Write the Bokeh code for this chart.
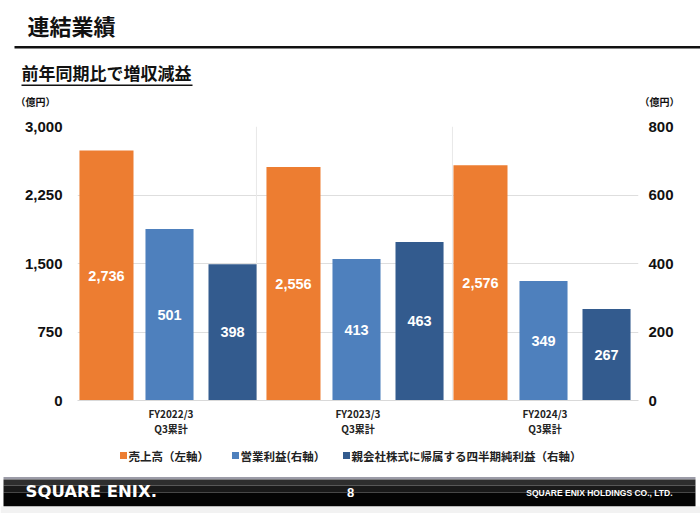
from bokeh.plotting import figure
from bokeh.layouts import column
from bokeh.models import (Range1d, LinearAxis, FixedTicker, NumeralTickFormatter,
                          ColumnDataSource, Span)
from bokeh.transform import dodge
from bokeh.core.properties import value
from bokeh.embed import file_html
from bokeh.resources import INLINE

# ---------------- data ----------------
categories = ["FY2022/3\nQ3累計", "FY2023/3\nQ3累計", "FY2024/3\nQ3累計"]
sales = [2736, 2556, 2576]            # 売上高 (left axis)
operating_income = [501, 413, 349]    # 営業利益 (right axis)
net_income = [398, 463, 267]          # 親会社株式に帰属する四半期純利益 (right axis)
left_ticks = [0, 750, 1500, 2250, 3000]
right_ticks = [0, 200, 400, 600, 800]
series_names = ["売上高（左軸）", "営業利益(右軸）", "親会社株式に帰属する四半期純利益（右軸）"]
title_text = "連結業績"
subtitle_text = "前年同期比で増収減益"
unit_text = "（億円）"
page_number = "8"
logo_text = "SQUARE ENIX."
company_text = "SQUARE ENIX HOLDINGS CO., LTD."

# ---------------- styles ----------------
C_ORANGE = "#ED7D31"
C_LIGHT = "#4E80BD"
C_DARK = "#335B8E"
series_colors = [C_ORANGE, C_LIGHT, C_DARK]
JP = "Noto Sans CJK JP"
LAT = "Liberation Sans"
W = 700
H_HEAD, H_CHART, H_FOOT = 110, 330, 73


def no_align(f):
    try:
        f.frame_align = False
    except Exception:
        pass


def blank(height, y0):
    """A figure whose data coordinates equal the page's pixel coordinates."""
    f = figure(width=W, height=height, x_range=Range1d(0, W), y_range=Range1d(y0 + height, y0),
               output_backend="svg", toolbar_location=None,
               x_axis_location=None, y_axis_location=None,
               min_border=0, min_border_left=0, min_border_right=0,
               min_border_top=0, min_border_bottom=0)
    f.grid.visible = False
    f.outline_line_color = None
    f.background_fill_color = "white"
    f.border_fill_color = "white"
    no_align(f)
    return f


def txt(f, x, y, s, size, color="#111111", font=JP, style="bold", align="left"):
    f.text(x=[x], y=[y], text=[s], text_font=value(font), text_font_size=size,
           text_font_style=style, text_color=color, text_align=align, text_baseline="middle")


# ---------------- header ----------------
head = blank(H_HEAD, 0)
txt(head, 27, 24, title_text, "22px")
head.quad(left=[14], right=[700], top=[45.5], bottom=[48], fill_color="#111111", line_color=None)
txt(head, 21, 72, subtitle_text, "17px")
head.quad(left=[21], right=[192], top=[84], bottom=[85.5], fill_color="#111111", line_color=None)
txt(head, 15, 101, unit_text, "10px")
txt(head, 639, 101, unit_text, "10px")

# ---------------- chart ----------------
xc = [i + 0.5 for i in range(len(categories))]   # category centres on a 0..N axis
src = ColumnDataSource(dict(
    xc=xc,
    sales=sales, sales_mid=[v / 2 for v in sales], sales_lbl=[f"{v:,}" for v in sales],
    op=operating_income, op_mid=[v / 2 for v in operating_income], op_lbl=[f"{v:,}" for v in operating_income],
    net=net_income, net_mid=[v / 2 for v in net_income], net_lbl=[f"{v:,}" for v in net_income],
))

p = figure(x_range=Range1d(0, len(categories)), y_range=Range1d(0, 3000),
           width=W, height=H_CHART, output_backend="svg", toolbar_location=None,
           min_border_left=77, min_border_right=62, min_border_top=16, min_border_bottom=40,
           background_fill_color="white", border_fill_color="white")
no_align(p)
p.outline_line_color = None
p.extra_y_ranges = {"right": Range1d(0, 800)}

p.xgrid.grid_line_color = None
p.ygrid.ticker = FixedTicker(ticks=left_ticks)
p.ygrid.grid_line_color = "#dedede"

ly = p.yaxis[0]
ly.ticker = FixedTicker(ticks=left_ticks)
ly.formatter = NumeralTickFormatter(format="0,0")
ry = LinearAxis(y_range_name="right", ticker=FixedTicker(ticks=right_ticks))
p.add_layout(ry, "right")
for ax, so in ((ly, 15), (ry, 10)):
    ax.axis_line_color = None
    ax.major_tick_line_color = None
    ax.minor_tick_line_color = None
    ax.major_tick_out = 0
    ax.major_label_standoff = so
    ax.major_label_text_font = LAT
    ax.major_label_text_font_size = "15px"
    ax.major_label_text_font_style = "bold"
    ax.major_label_text_color = "#111111"

xa = p.xaxis[0]
xa.ticker = FixedTicker(ticks=xc)
xa.major_label_overrides = {x: c for x, c in zip(xc, categories)}
xa.axis_line_color = "#d9d9d9"
xa.major_tick_line_color = None
xa.minor_tick_line_color = None
xa.major_tick_out = 0
xa.major_label_standoff = 5
xa.major_label_text_font = JP
xa.major_label_text_font_size = "10px"
xa.major_label_text_font_style = "bold"
xa.major_label_text_color = "#222222"
xa.major_label_text_line_height = 1.05

for xd in (0.957, 2.005):   # group dividers (style positions)
    p.add_layout(Span(location=xd, dimension="height", line_color="#e8e8e8", line_width=1,
                      level="underlay"))

OFF = (-0.345, -0.008, 0.329)
WID = (0.289, 0.257, 0.257)
p.vbar(x=dodge("xc", OFF[0]), top="sales", width=WID[0], source=src,
       fill_color=series_colors[0], line_color=None)
p.vbar(x=dodge("xc", OFF[1]), top="op", width=WID[1], source=src,
       fill_color=series_colors[1], line_color=None, y_range_name="right")
p.vbar(x=dodge("xc", OFF[2]), top="net", width=WID[2], source=src,
       fill_color=series_colors[2], line_color=None, y_range_name="right")

for off, ycol, lcol, rng in ((OFF[0], "sales_mid", "sales_lbl", "default"),
                             (OFF[1], "op_mid", "op_lbl", "right"),
                             (OFF[2], "net_mid", "net_lbl", "right")):
    p.text(x=dodge("xc", off), y=ycol, text=lcol, source=src,
           y_range_name=rng, text_color="white", text_font=value(LAT),
           text_font_size="14.5px", text_font_style="bold",
           text_align="center", text_baseline="middle")

# ---------------- legend + footer ----------------
foot = blank(H_FOOT, H_HEAD + H_CHART)
legend_x = [123, 235, 346]     # legend swatch positions (style)
legend_y = 455
foot.scatter(x=legend_x, y=[legend_y] * 3, marker="square", size=7,
             fill_color=series_colors, line_color=None)
foot.text(x=[x + 5 for x in legend_x], y=[legend_y] * 3, text=series_names,
          text_font=value(JP), text_font_size="11.5px", text_font_style="bold",
          text_color="#222222", text_align="left", text_baseline="middle")

foot.quad(left=[3], right=[695], top=[476.5], bottom=[479], fill_color="#9c9ca8", line_color=None)
foot.quad(left=[3, 3, 3], right=[695, 695, 695], top=[479, 485, 492], bottom=[485, 492, 506],
          fill_color=["#2e2e2e", "#1a1a1a", "#050505"], line_color=None)
foot.rect(x=[350], y=[509.5], width=[700], height=[7], fill_color="#f2f2f2", line_color=None)
txt(foot, 25, 491, logo_text, "16.5px", color="white", font="DejaVu Sans")
txt(foot, 350, 492, page_number, "13px", color="white", font=LAT, align="center")
txt(foot, 672, 492, company_text, "8.5px", color="white", font=LAT, align="right")

layout = column(head, p, foot, spacing=0)
open("out.html", "w").write(file_html(layout, INLINE))
